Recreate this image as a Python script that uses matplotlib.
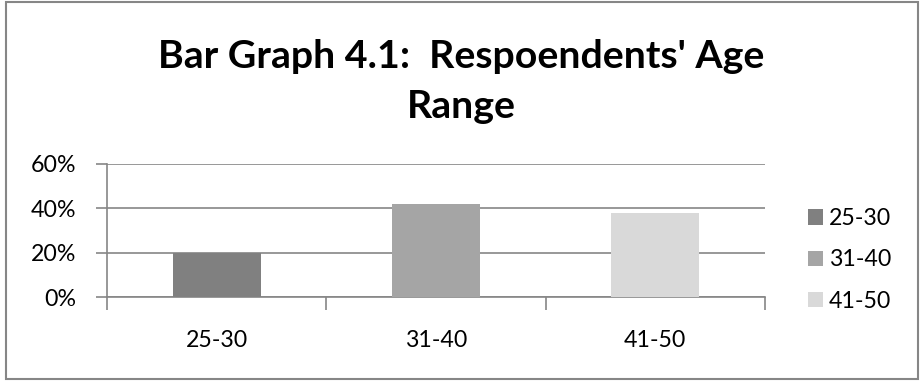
import matplotlib.pyplot as plt
from matplotlib.patches import Rectangle, Patch
from matplotlib.ticker import PercentFormatter

# data
categories = ['25-30', '31-40', '41-50']
shares = [20, 42, 38]
bar_colors = ['#808080', '#A5A5A5', '#D9D9D9']
title_lines = ["Bar Graph 4.1:  Respoendents' Age", "Range"]

plt.rcParams['font.family'] = ['Lato', 'DejaVu Sans']
W, H = 921, 384
fig = plt.figure(figsize=(W / 100, H / 100), dpi=100)

# plot area, placed in pixel terms
left, right, bottom, top = 107, 765, 297, 164
ax = fig.add_axes([left / W, 1 - bottom / H, (right - left) / W, (bottom - top) / H])

grid_col = '#868686'
for i, (cat, val) in enumerate(zip(categories, shares)):
    ax.bar(i, val, width=0.4, color=bar_colors[i], zorder=3)

ax.set_xlim(-0.5, len(categories) - 0.5)
ax.set_ylim(0, 60)
ax.set_yticks([0, 20, 40, 60])
ax.yaxis.set_major_formatter(PercentFormatter(decimals=0))
ax.yaxis.grid(True, color=grid_col, linewidth=1.2, zorder=0)

# labels at bar centres, tick marks at category boundaries
ax.set_xticks(range(len(categories)))
ax.set_xticklabels(categories)
ax.set_xticks([i - 0.5 for i in range(len(categories) + 1)], minor=True)
ax.tick_params(axis='x', which='major', length=0, pad=24, labelsize=16.7)
ax.tick_params(axis='x', which='minor', length=9, width=1.2, color=grid_col, direction='out')
ax.tick_params(axis='y', length=8, width=1.2, color=grid_col, pad=14, labelsize=16.7)

for s in ['top', 'right']:
    ax.spines[s].set_visible(False)
for s in ['left', 'bottom']:
    ax.spines[s].set_color(grid_col)
    ax.spines[s].set_linewidth(1.2)

# two-line title, one text per line at its baseline
for line, base_y in zip(title_lines, [68, 118]):
    fig.text(461 / W, 1 - base_y / H, line, ha='center', va='baseline', fontsize=28.3,
             fontweight='bold')

handles = [Patch(facecolor=c, edgecolor='none') for c in bar_colors]
fig.legend(handles, categories, loc='center left', bbox_to_anchor=(808 / W, 1 - 260 / H),
           frameon=False, borderpad=0, borderaxespad=0, fontsize=16.7,
           handlelength=0.65, handleheight=0.65, handletextpad=0.26, labelspacing=0.87)

# outer chart border
fig.patches.append(Rectangle((6 / W, 5 / H), 912 / W, 377 / H, transform=fig.transFigure,
                             fill=False, edgecolor=grid_col, linewidth=1.5))

fig.savefig('out.png', dpi=100)
